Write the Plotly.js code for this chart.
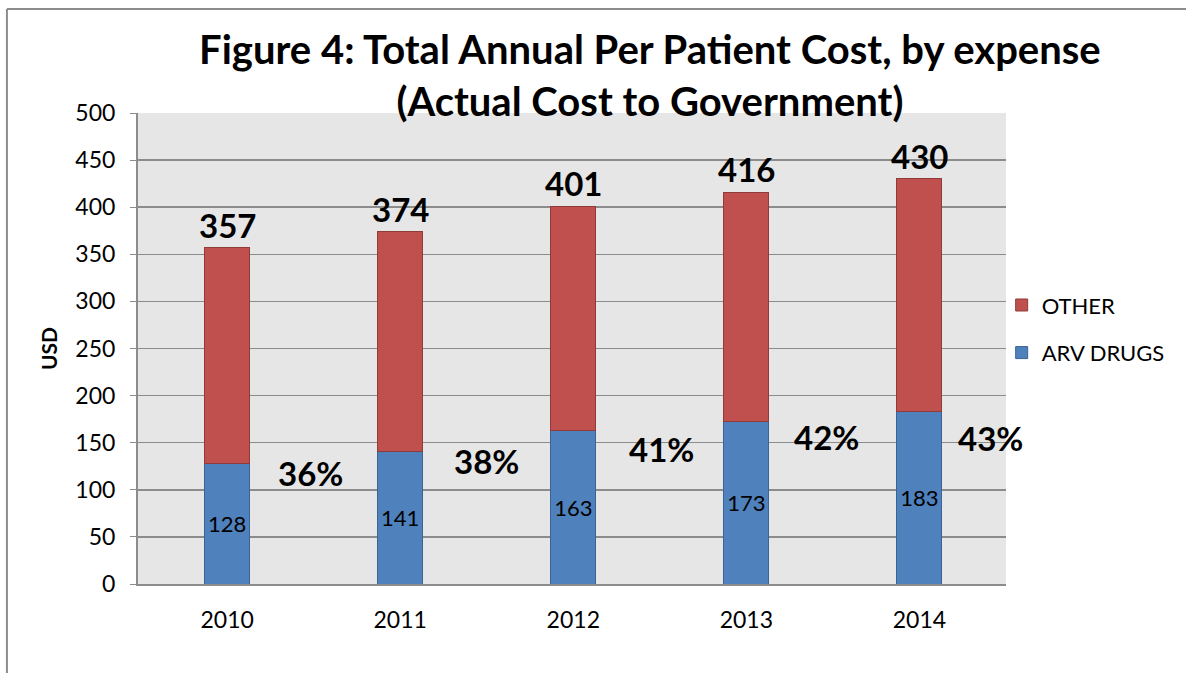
<!DOCTYPE html>
<html><head><meta charset="utf-8">
<script src="https://cdn.plot.ly/plotly-3.0.1.min.js"></script>
<style>html,body{margin:0;padding:0;background:#fff}</style>
</head><body>
<div id="chart" style="width:1186px;height:673px"></div>
<script>
const years = ['2010','2011','2012','2013','2014'];
const arvDrugs = [128, 141, 163, 173, 183];
const other = [229, 233, 238, 243, 247];
const totals = [357, 374, 401, 416, 430];
const shareLabels = ['36%','38%','41%','42%','43%'];
const shareX = [0.48, 1.5, 2.51, 3.46, 4.41];
const shareY = [118, 131, 143, 156, 155];

const FONT = 'Lato, "Open Sans", sans-serif';

const traces = [
  {type:'bar', name:'ARV DRUGS', legendgroup:'arv', legendrank:2, x:years, y:arvDrugs,
   marker:{color:'#4F81BD', line:{color:'#3A6496', width:1}},
   text:arvDrugs.map(String), textposition:'inside', insidetextanchor:'middle',
   textangle:0, constraintext:'none',
   textfont:{family:FONT, size:22, color:'#000'}, hoverinfo:'x+y'},
  {type:'bar', name:'OTHER', legendgroup:'other', legendrank:1, x:years, y:other,
   marker:{color:'#C0504D', line:{color:'#8E3B39', width:1}},
   hoverinfo:'x+y'}
];

const annotations = [];
years.forEach((yr,i)=>{
  annotations.push({x:i, y:totals[i], xref:'x', yref:'y', text:String(totals[i]),
    showarrow:false, yanchor:'bottom', yshift:1, font:{family:FONT, size:33, color:'#000', weight:'bold'}});
  annotations.push({x:shareX[i], y:shareY[i], xref:'x', yref:'y', text:shareLabels[i],
    showarrow:false, font:{family:FONT, size:33, color:'#000', weight:'bold'}});
});

const layout = {
  width:1186, height:673,
  margin:{l:138, r:180, t:113, b:89},
  paper_bgcolor:'#fff', plot_bgcolor:'#E6E6E6',
  barmode:'stack', bargap:0.74,
  font:{family:FONT, color:'#000'},
  title:{text:'<b>Figure 4: Total Annual Per Patient Cost, by expense<br>(Actual Cost to Government)</b>',
    font:{family:FONT, size:40, color:'#000'}, x:0.548, xanchor:'center', y:0.905, yanchor:'top'},
  xaxis:{type:'category', range:[-0.515, 4.5], showgrid:false, showline:true, linecolor:'#8C8C8C', linewidth:2,
    ticks:'', tickfont:{family:FONT, size:23, color:'#000'}, ticklabelstandoff:14, fixedrange:true},
  yaxis:{range:[0,500], dtick:50, showgrid:true, gridcolor:'#8C8C8C', gridwidth:1.5,
    showline:true, linecolor:'#8C8C8C', linewidth:2, ticks:'outside', ticklen:6, tickcolor:'#8C8C8C',
    tickfont:{family:FONT, size:23, color:'#000'}, ticklabelstandoff:10, zeroline:false,
    title:{text:'<b>USD</b>', font:{family:FONT, size:21, color:'#000'}, standoff:12}},
  legend:{x:0.995, y:0.541, xanchor:'left', yanchor:'middle', traceorder:'grouped',
    font:{family:FONT, size:22, color:'#000'}, itemwidth:30, tracegroupgap:16, bgcolor:'rgba(0,0,0,0)'},
  annotations:annotations,
  shapes:[
    {type:'line', xref:'paper', yref:'paper', x0:-0.151, x1:1.25, y0:1.2208, y1:1.2208, line:{color:'#8C8C8C', width:2}},
    {type:'line', xref:'paper', yref:'paper', x0:-0.151, x1:-0.151, y0:1.2208, y1:-0.25, line:{color:'#8C8C8C', width:2}}
  ]
};

Plotly.newPlot('chart', traces, layout, {displayModeBar:false, staticPlot:true});
</script>
</body></html>
